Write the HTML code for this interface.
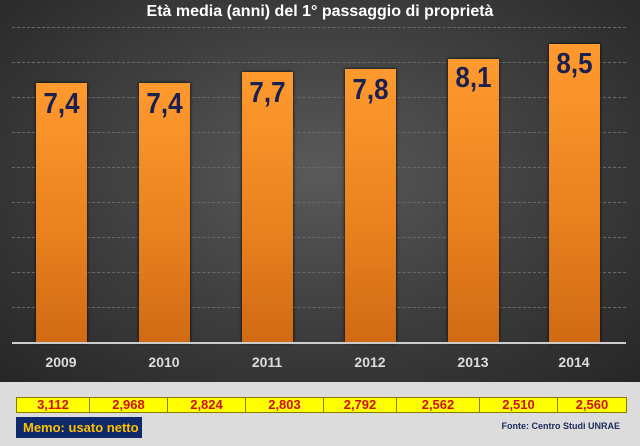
<!DOCTYPE html>
<html><head><meta charset="utf-8"><style>
body{margin:0;width:640px;height:446px;overflow:hidden;background:#dcdcdc;font-family:"Liberation Sans",sans-serif;position:relative}
#dark{position:absolute;left:0;top:0;width:640px;height:382px;background:radial-gradient(ellipse at 50% 45%,#5a5a5a 0%,#3c3c3c 55%,#262626 100%)}
.t{position:absolute;left:0;width:640px;text-align:center;color:#fff;font-weight:bold;font-size:16px;top:3px}
.g{position:absolute;left:12px;width:614px;height:0;border-top:1px dashed #6a6a6a}
.bar{position:absolute;width:51px;background:linear-gradient(180deg,#ff9a2e,#e8801e 60%,#d06a14);box-shadow:0 0 3px #000}
.v{position:absolute;width:51px;text-align:center;color:#1a2050;font-weight:bold;font-size:26px;font-family:"Liberation Sans Narrow","Liberation Sans",sans-serif;transform:scaleY(1.1)}
.y{position:absolute;width:70px;text-align:center;color:#ddd;font-weight:bold;font-size:14px;top:354px;font-family:"Liberation Sans Narrow","Liberation Sans",sans-serif}
table{position:absolute;left:16px;top:397px;width:611px;height:16px;border-collapse:collapse;background:#ffff00}
td{border:1px solid #8a7a00;color:#d01010;font-weight:bold;font-size:13px;text-align:center;padding:0;line-height:14px;font-family:"Liberation Sans Narrow","Liberation Sans",sans-serif}
</style></head><body>
<div id="dark"></div>
<div class="t">Età media (anni) del 1° passaggio di proprietà</div>
<div class="g" style="top:27px"></div><div class="g" style="top:62px"></div><div class="g" style="top:97px"></div><div class="g" style="top:132px"></div><div class="g" style="top:167px"></div><div class="g" style="top:202px"></div><div class="g" style="top:237px"></div><div class="g" style="top:272px"></div><div class="g" style="top:307px"></div>
<div class="bar" style="left:36px;top:83px;height:260px"></div>
<div class="bar" style="left:139px;top:83px;height:260px"></div>
<div class="bar" style="left:242px;top:72px;height:271px"></div>
<div class="bar" style="left:345px;top:69px;height:274px"></div>
<div class="bar" style="left:448px;top:59px;height:284px"></div>
<div class="bar" style="left:549px;top:44px;height:299px"></div>
<div class="v" style="left:36px;top:88px">7,4</div>
<div class="v" style="left:139px;top:88px">7,4</div>
<div class="v" style="left:242px;top:77px">7,7</div>
<div class="v" style="left:345px;top:74px">7,8</div>
<div class="v" style="left:448px;top:62px">8,1</div>
<div class="v" style="left:549px;top:48px">8,5</div>
<div style="position:absolute;left:12px;top:342px;width:614px;height:2px;background:#ccc"></div>
<div class="y" style="left:26px">2009</div><div class="y" style="left:129px">2010</div><div class="y" style="left:232px">2011</div><div class="y" style="left:335px">2012</div><div class="y" style="left:438px">2013</div><div class="y" style="left:539px">2014</div>
<table><tr><td style="width:72px">3,112</td><td style="width:77px">2,968</td><td style="width:77px">2,824</td><td style="width:77px">2,803</td><td style="width:72px">2,792</td><td style="width:82px">2,562</td><td style="width:77px">2,510</td><td>2,560</td></tr></table>
<div style="position:absolute;left:16px;top:417px;width:126px;height:21px;background:#0e2a6a;color:#ffc000;font-weight:bold;font-size:13px;line-height:21px;padding-left:7px;box-sizing:border-box;font-family:'Liberation Sans Narrow','Liberation Sans',sans-serif">Memo: usato netto</div>
<div style="position:absolute;left:480px;top:421px;width:140px;text-align:right;color:#1a2a5a;font-weight:bold;font-size:9px;font-family:'Liberation Sans Narrow','Liberation Sans',sans-serif">Fonte: Centro Studi UNRAE</div>
</body></html>
